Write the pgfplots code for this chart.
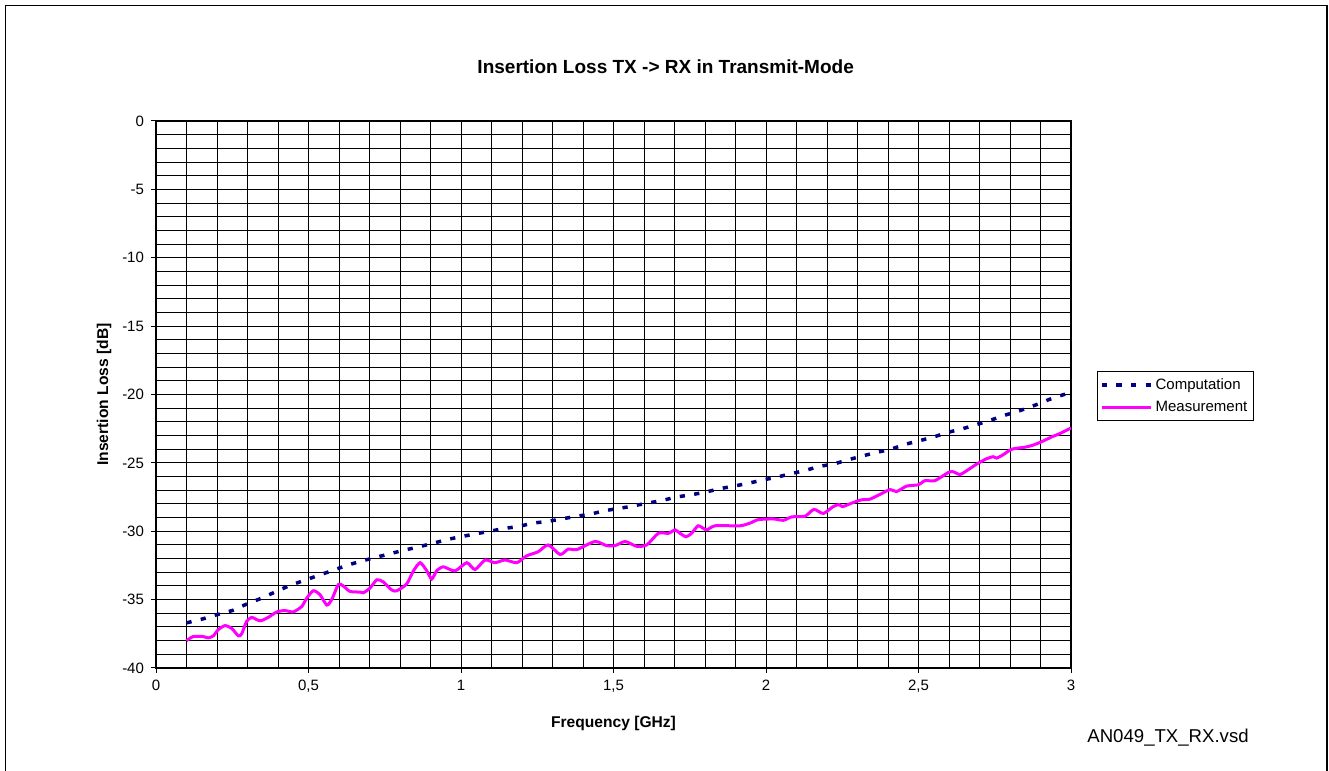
\documentclass[border=0pt]{standalone}
\usepackage{pgfplots}
\pgfplotsset{compat=1.18}
\usepackage{fontspec}
\setmainfont{Liberation Sans}
\definecolor{compnavy}{RGB}{0,0,128}
\definecolor{measmag}{RGB}{255,0,255}
\begin{document}
\begin{tikzpicture}
\useasboundingbox (0,0) rectangle (664.5pt,385.5pt);
\draw[line width=0.7pt] (2.65pt,-5pt) rectangle (663.5pt,382.85pt);
\begin{axis}[
  at={(78pt,51.5pt)}, anchor=south west,
  scale only axis, width=457.5pt, height=273.5pt,
  xmin=0, xmax=3, ymin=-40, ymax=0,
  xtick={0,0.5,1,1.5,2,2.5,3},
  xticklabels={0,{0,5},1,{1,5},2,{2,5},3},
  ytick={-40,-35,-30,-25,-20,-15,-10,-5,0},
  yticklabels={-40,-35,-30,-25,-20,-15,-10,-5,0},
  minor x tick num=4, minor y tick num=4,
  grid=both,
  major grid style={black, line width=0.5pt},
  minor grid style={black, line width=0.5pt},
  axis line style={black, line width=0.6pt},
  tick align=outside, major tick length=2.5pt, minor tick length=0pt,
  tick style={black, line width=0.5pt},
  xtick pos=bottom, ytick pos=left,
  ticklabel style={font=\fontsize{7.5}{9}\selectfont},
  title={Insertion Loss TX -> RX in Transmit-Mode},
  title style={at={(0.557,1.078)}, anchor=center, font=\fontsize{9.5}{11}\selectfont\bfseries},
  xlabel={Frequency [GHz]},
  xlabel style={at={(0.5,-0.1005)}, anchor=center, font=\fontsize{7.8}{9}\selectfont\bfseries},
  ylabel={Insertion Loss [dB]},
  ylabel style={at={(-0.0568,0.5)}, anchor=center, rotate=0, font=\fontsize{7.8}{9}\selectfont\bfseries},
  legend style={at={(1.028,0.543)}, anchor=north west, draw=black, line width=0.5pt,
    font=\fontsize{7.5}{9}\selectfont, inner sep=1.5pt, row sep=1pt,
    nodes={inner sep=1.5pt, text height=5.8pt, text depth=1.5pt}},
  legend cell align=left,
  legend image code/.code={\draw[#1] (0pt,0pt) -- (24.5pt,0pt);},
]
\addplot[compnavy, line width=1.75pt, dash pattern=on 2.6pt off 4.7pt] coordinates {
(0.1,-36.7)(0.155,-36.4)(0.2,-36.1)(0.25,-35.8)(0.3,-35.3)(0.34,-34.95)(0.39,-34.45)(0.435,-34.0)(0.485,-33.6)(0.53,-33.25)(0.575,-32.9)(0.625,-32.5)(0.67,-32.2)(0.74,-31.8)(0.81,-31.4)(0.86,-31.15)(0.91,-30.87)(0.955,-30.6)(1.0,-30.4)(1.045,-30.2)(1.095,-30.0)(1.14,-29.8)(1.19,-29.65)(1.235,-29.4)(1.28,-29.3)(1.33,-29.1)(1.38,-28.9)(1.425,-28.75)(1.47,-28.5)(1.54,-28.25)(1.61,-27.95)(1.66,-27.75)(1.705,-27.5)(1.75,-27.35)(1.8,-27.15)(1.845,-26.9)(1.895,-26.7)(1.94,-26.5)(1.99,-26.25)(2.035,-26.05)(2.08,-25.8)(2.13,-25.55)(2.175,-25.25)(2.22,-25.1)(2.265,-24.8)(2.315,-24.5)(2.36,-24.25)(2.41,-24.0)(2.455,-23.65)(2.5,-23.4)(2.55,-23.1)(2.6,-22.75)(2.645,-22.5)(2.69,-22.2)(2.74,-21.85)(2.785,-21.5)(2.83,-21.2)(2.88,-20.8)(2.93,-20.35)(2.97,-20.05)(3.0,-19.85)
};
\addlegendentry{Computation}
\addplot[measmag, line width=1.5pt, smooth, tension=0.4] coordinates {
(0.1,-38.0)(0.122,-37.7)(0.155,-37.7)(0.171,-37.8)(0.188,-37.65)(0.204,-37.2)(0.226,-36.9)(0.248,-37.1)(0.27,-37.65)(0.281,-37.5)(0.297,-36.6)(0.314,-36.3)(0.341,-36.55)(0.368,-36.3)(0.396,-35.9)(0.423,-35.8)(0.45,-35.9)(0.478,-35.5)(0.494,-34.9)(0.516,-34.35)(0.538,-34.65)(0.56,-35.4)(0.576,-35.0)(0.598,-33.9)(0.614,-34.0)(0.636,-34.4)(0.669,-34.45)(0.68,-34.5)(0.702,-34.15)(0.724,-33.55)(0.745,-33.7)(0.773,-34.3)(0.79,-34.35)(0.822,-33.85)(0.844,-32.9)(0.866,-32.3)(0.888,-32.9)(0.904,-33.5)(0.92,-32.9)(0.942,-32.6)(0.98,-32.9)(1.019,-32.3)(1.046,-32.8)(1.079,-32.1)(1.111,-32.3)(1.144,-32.1)(1.183,-32.3)(1.215,-31.8)(1.253,-31.5)(1.286,-31.0)(1.325,-31.7)(1.352,-31.3)(1.379,-31.35)(1.439,-30.75)(1.477,-31.05)(1.505,-31.05)(1.538,-30.75)(1.576,-31.1)(1.609,-31.0)(1.647,-30.15)(1.68,-30.15)(1.702,-29.9)(1.718,-30.15)(1.738,-30.4)(1.756,-30.15)(1.778,-29.6)(1.805,-29.9)(1.833,-29.6)(1.915,-29.6)(1.948,-29.4)(1.975,-29.15)(2.024,-29.1)(2.057,-29.2)(2.084,-28.95)(2.128,-28.9)(2.157,-28.4)(2.188,-28.7)(2.22,-28.2)(2.24,-28.05)(2.251,-28.2)(2.286,-27.9)(2.314,-27.7)(2.341,-27.65)(2.374,-27.3)(2.407,-26.95)(2.428,-27.1)(2.461,-26.7)(2.5,-26.6)(2.521,-26.3)(2.554,-26.3)(2.598,-25.7)(2.614,-25.65)(2.636,-25.85)(2.663,-25.5)(2.69,-25.1)(2.723,-24.7)(2.745,-24.55)(2.756,-24.65)(2.778,-24.4)(2.806,-24.0)(2.85,-23.85)(2.876,-23.7)(2.904,-23.45)(2.937,-23.1)(2.964,-22.85)(3.0,-22.45)
};
\addlegendentry{Measurement}
\end{axis}
\node[anchor=base west, inner sep=0pt, font=\fontsize{9.3}{11}\selectfont] at (543.5pt,14pt) {AN049\_TX\_RX.vsd};
\end{tikzpicture}
\end{document}
